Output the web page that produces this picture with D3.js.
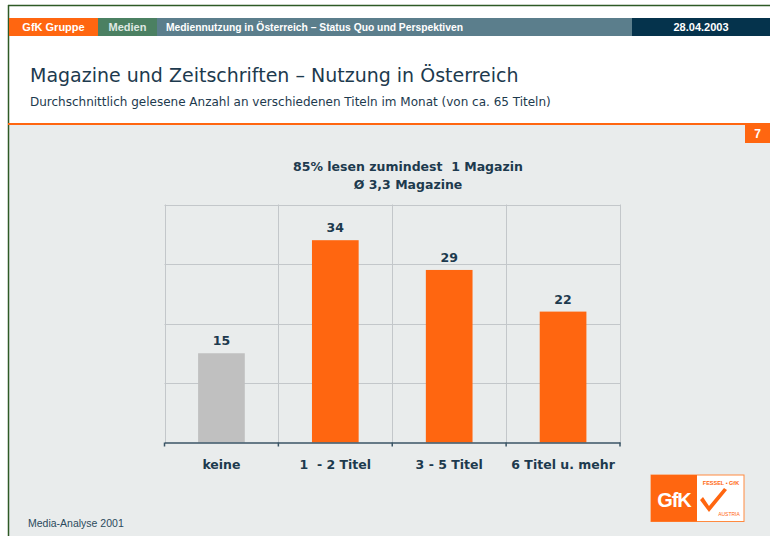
<!DOCTYPE html>
<html>
<head>
<meta charset="utf-8">
<script src="https://cdn.jsdelivr.net/npm/d3@7"></script>
<style>
  body { margin: 0; background: #fff; }
  svg { display: block; font-family: "Liberation Sans", Arial, sans-serif; }
</style>
</head>
<body>
<div id="chart"></div>
<script>
// chart values
const categories = ["keine", "1  - 2 Titel", "3 - 5 Titel", "6 Titel u. mehr"];
const values = [15, 34, 29, 22];
const yTicks = [0, 10, 20, 30, 40];
const titleLines = ["85% lesen zumindest  1 Magazin", "Ø 3,3 Magazine"];
const headerItems = ["GfK Gruppe", "Medien", "Mediennutzung in Österreich – Status Quo und Perspektiven", "28.04.2003"];

const W = 770, H = 536;
const navy = "#1d3a4e";
const orange = "#ff6610";
const chartFont = "DejaVu Sans, Verdana, sans-serif";

const svg = d3.select("#chart").append("svg")
  .attr("width", W)
  .attr("height", H);

// page background
svg.append("rect").attr("x", 0).attr("y", 0).attr("width", W).attr("height", H).attr("fill", "#fff");
svg.append("rect").attr("x", 8).attr("y", 124).attr("width", W - 8).attr("height", H - 124).attr("fill", "#e9ecec");

// frame
svg.append("line").attr("x1", 8).attr("x2", W).attr("y1", 5.5).attr("y2", 5.5)
  .attr("stroke", "#2e5a26").attr("stroke-width", 1.5);
svg.append("line").attr("x1", 8.5).attr("x2", 8.5).attr("y1", 5).attr("y2", H)
  .attr("stroke", "#2e5a26").attr("stroke-width", 1.5);

// header bar
const headerBoxes = [
  {x0: 9, x1: 98, fill: "#ff6610", anchor: "middle", size: 11},
  {x0: 98, x1: 157, fill: "#4b8062", anchor: "middle", size: 11},
  {x0: 157, x1: 632, fill: "#5b7e8c", anchor: "start", size: 10.3},
  {x0: 632, x1: W, fill: "#05334c", anchor: "middle", size: 11}
];
headerBoxes.forEach((b, i) => {
  svg.append("rect")
    .attr("x", b.x0).attr("y", 18).attr("width", b.x1 - b.x0).attr("height", 18)
    .attr("fill", b.fill);
  svg.append("text")
    .attr("x", b.anchor == "middle" ? (b.x0 + b.x1) / 2 : b.x0 + 9)
    .attr("y", 31)
    .attr("text-anchor", b.anchor)
    .attr("font-size", b.size + "px")
    .attr("font-weight", "bold")
    .attr("fill", i == 1 ? "#dfe8e2" : "#fff")
    .text(headerItems[i]);
});

// titles
svg.append("text")
  .attr("x", 30).attr("y", 82)
  .attr("font-family", chartFont)
  .attr("font-size", "19px")
  .attr("fill", navy)
  .text("Magazine und Zeitschriften – Nutzung in Österreich");
svg.append("text")
  .attr("x", 30).attr("y", 106)
  .attr("font-family", chartFont)
  .attr("font-size", "12px")
  .attr("fill", navy)
  .text("Durchschnittlich gelesene Anzahl an verschiedenen Titeln im Monat (von ca. 65 Titeln)");

// orange rule + page number
svg.append("line").attr("x1", 8).attr("x2", W).attr("y1", 124).attr("y2", 124)
  .attr("stroke", orange).attr("stroke-width", 2);
svg.append("rect").attr("x", 745).attr("y", 124).attr("width", 25).attr("height", 19).attr("fill", orange);
svg.append("text").attr("x", 757.5).attr("y", 138).attr("text-anchor", "middle")
  .attr("font-size", "12px").attr("font-weight", "bold").attr("fill", "#fff").text("7");

// chart
const plot = {left: 164.5, right: 620, top: 204.5, bottom: 442.5};

const x = d3.scaleBand()
  .domain(categories)
  .range([plot.left, plot.right])
  .padding(0);

const y = d3.scaleLinear()
  .domain([0, 40])
  .range([plot.bottom, plot.top]);

const g = svg.append("g");

// horizontal grid
g.selectAll(".hgrid")
  .data(yTicks.filter(d => d > 0))
  .enter()
  .append("line")
    .attr("x1", plot.left).attr("x2", plot.right)
    .attr("y1", d => Math.round(y(d)) + 0.5).attr("y2", d => Math.round(y(d)) + 0.5)
    .attr("stroke", "#c3c7ca").attr("stroke-width", 1);

// vertical grid at category boundaries
const bounds = categories.map(c => x(c)).concat([plot.right]);
g.selectAll(".vgrid")
  .data(bounds)
  .enter()
  .append("line")
    .attr("x1", d => Math.round(d) + 0.5).attr("x2", d => Math.round(d) + 0.5)
    .attr("y1", plot.top).attr("y2", plot.bottom)
    .attr("stroke", "#c3c7ca").attr("stroke-width", 1);

// bars
const barW = x.bandwidth() * 0.41;
g.selectAll(".bar")
  .data(values)
  .enter()
  .append("rect")
    .attr("x", (d, i) => x(categories[i]) + (x.bandwidth() - barW) / 2)
    .attr("y", d => y(d))
    .attr("width", barW)
    .attr("height", d => y(0) - y(d))
    .attr("fill", (d, i) => i == 0 ? "#c0c0c0" : orange);

// value labels
g.selectAll(".val")
  .data(values)
  .enter()
  .append("text")
    .attr("x", (d, i) => x(categories[i]) + x.bandwidth() / 2)
    .attr("y", d => y(d) - 8)
    .attr("text-anchor", "middle")
    .attr("font-family", chartFont)
    .attr("font-size", "12.5px")
    .attr("font-weight", "bold")
    .attr("fill", navy)
    .text(d => d);

// x axis
const axis = svg.append("g")
  .attr("transform", "translate(0," + plot.bottom + ")")
  .call(d3.axisBottom(x).tickSize(0).tickPadding(19));
axis.select(".domain").attr("stroke", "#3a5566").attr("stroke-width", 1.5);
axis.selectAll(".tick text")
  .attr("font-family", chartFont)
  .attr("font-size", "12.5px")
  .attr("font-weight", "bold")
  .attr("fill", navy)
  .attr("dy", "0")
  .attr("y", 26)
  .style("white-space", "pre");
axis.selectAll(".bound")
  .data(bounds)
  .enter()
  .append("line")
    .attr("x1", d => d).attr("x2", d => d)
    .attr("y1", 0).attr("y2", 4)
    .attr("stroke", "#3a5566").attr("stroke-width", 1.5);

// chart title
svg.selectAll(".ctitle")
  .data(titleLines)
  .enter()
  .append("text")
    .attr("x", 408)
    .attr("y", (d, i) => 171 + i * 18)
    .attr("text-anchor", "middle")
    .attr("font-family", chartFont)
    .attr("font-size", "12.5px")
    .attr("font-weight", "bold")
    .attr("fill", navy)
    .style("white-space", "pre")
    .text(d => d);

// footer
svg.append("text").attr("x", 28).attr("y", 527)
  .attr("font-size", "10.5px").attr("fill", "#2b4a5c")
  .text("Media-Analyse 2001");

// logo
const logo = svg.append("g").attr("transform", "translate(651,475)");
logo.append("rect").attr("width", 93).attr("height", 46.5).attr("fill", "#fff")
  .attr("stroke", "#ff8a40").attr("stroke-width", 1);
logo.append("rect").attr("width", 46).attr("height", 46.5).attr("fill", orange);
logo.append("text").attr("x", 23).attr("y", 32).attr("text-anchor", "middle")
  .attr("font-size", "20px").attr("font-weight", "bold").attr("fill", "#fff")
  .attr("letter-spacing", "-1").text("GfK");
logo.append("text").attr("x", 70).attr("y", 10).attr("text-anchor", "middle")
  .attr("font-size", "5.5px").attr("font-weight", "bold").attr("fill", orange).text("FESSEL • GfK");
logo.append("path").attr("d", "M49,25 L58,37 L76,15 L73,13 L58,31 L52,22 Z").attr("fill", orange);
logo.append("text").attr("x", 78).attr("y", 41).attr("text-anchor", "middle")
  .attr("font-size", "5px").attr("fill", orange).text("AUSTRIA");
</script>
</body>
</html>
